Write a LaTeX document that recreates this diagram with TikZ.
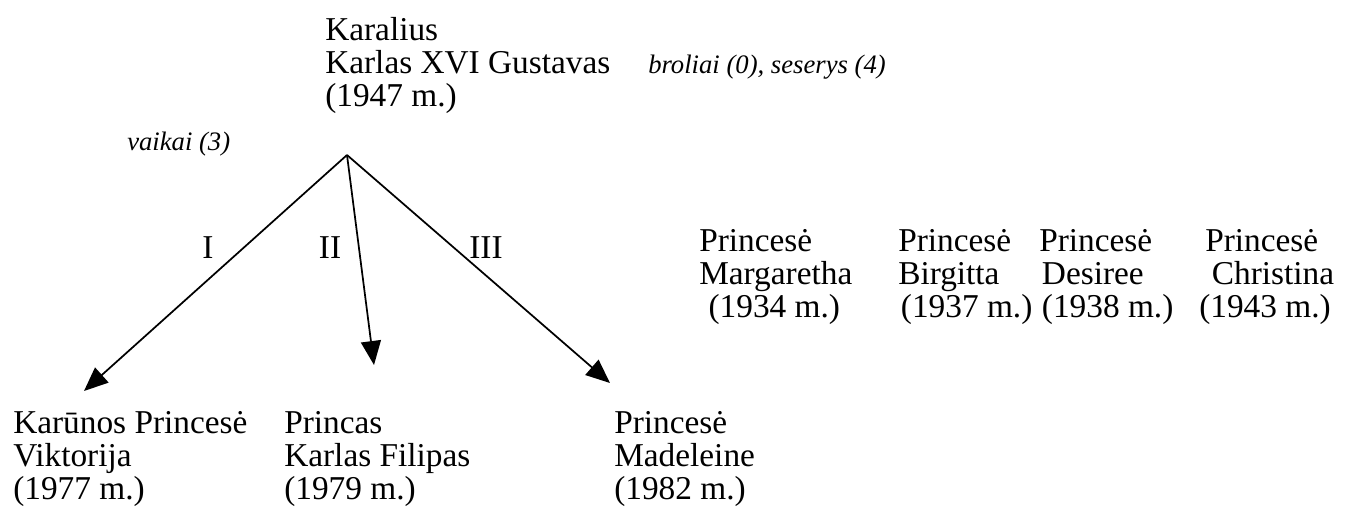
\documentclass[tikz,border=0pt]{standalone}
\usepackage{fontspec}
\setmainfont{Liberation Serif}
\usetikzlibrary{arrows.meta}
\tikzstyle{treeCanvas} = [x=0.75pt, y=-0.75pt]
\tikzstyle{personText} = [anchor=north west, inner sep=0pt, align=left, font=\fontsize{25}{24.75}\selectfont]
\tikzstyle{noteText} = [anchor=base west, inner sep=0pt, font=\fontsize{20}{24}\selectfont\itshape]
\tikzstyle{branchLabel} = [anchor=base, inner sep=0pt, font=\fontsize{25}{24.75}\selectfont]
\tikzstyle{branchArrow} = [-{Triangle[length=18pt,width=15pt]}, line width=1.3pt]
\newcommand{\personNode}[4]{\node [personText] (#1) at (#2,#3) {#4};}

\begin{document}
\begin{tikzpicture}[treeCanvas]
  \useasboundingbox (0,0) rectangle (1346,512);
  % king and notes
  \personNode{king}{325}{17}{Karalius\\Karlas XVI Gustavas\\(1947 m.)}
  \node [noteText] (siblings) at (648,73) {broliai (0), seserys (4)};
  \node [noteText] (children) at (127,150) {vaikai (3)};

  % sisters
  \personNode{margaretha}{699}{229}{Princesė\\Margaretha\\\hspace*{7pt}(1934 m.)}
  \personNode{birgitta}{898}{229}{Princesė\\Birgitta\\\hspace*{2pt}(1937 m.)}
  \personNode{desiree}{1039}{229}{Princesė\\\hspace*{2pt}Desiree\\\hspace*{2pt}(1938 m.)}
  \personNode{christina}{1199}{229}{\hspace*{4.5pt}Princesė\\\hspace*{9.5pt}Christina\\(1943 m.)}

  % children
  \personNode{viktorija}{13}{411}{Karūnos Princesė\\Viktorija\\(1977 m.)}
  \personNode{filipas}{284}{411}{Princas\\Karlas Filipas\\(1979 m.)}
  \personNode{madeleine}{614}{411}{Princesė\\Madeleine\\(1982 m.)}

  % branches
  \coordinate (apex) at (347,155);
  \coordinate (tipOne) at (84,391);
  \coordinate (tipTwo) at (374,365);
  \coordinate (tipThree) at (610,383);
  \draw [branchArrow] (apex) -- (tipOne);
  \draw [branchArrow] (apex) -- (tipTwo);
  \draw [branchArrow] (apex) -- (tipThree);
  \node [branchLabel] (labelOne) at (208,258) {I};
  \node [branchLabel] (labelTwo) at (330,258) {II};
  \node [branchLabel] (labelThree) at (486,258) {III};
\end{tikzpicture}
\end{document}
